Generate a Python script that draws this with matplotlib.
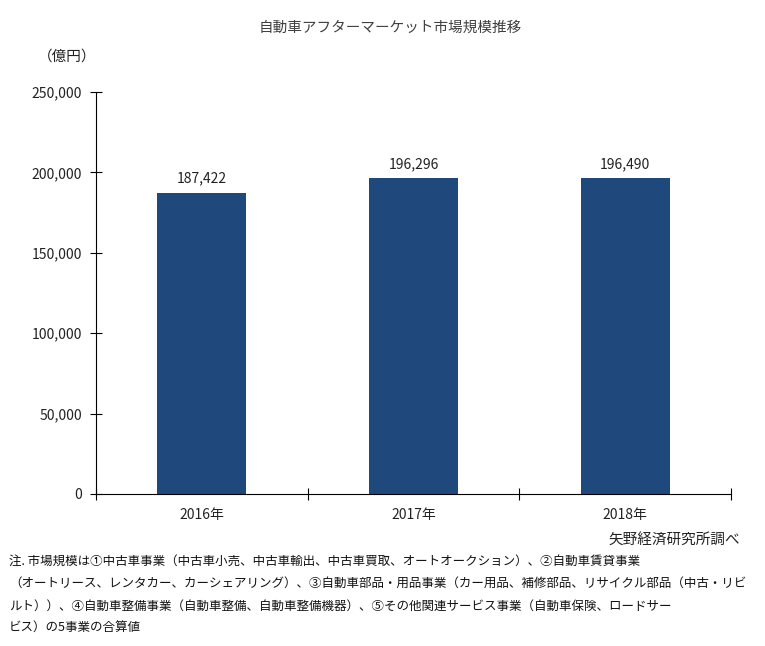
import matplotlib
matplotlib.use('Agg')
import matplotlib.pyplot as plt
from matplotlib.ticker import FuncFormatter, FixedLocator

plt.rcParams['font.family'] = ['Noto Sans CJK JP', 'DejaVu Sans']

# data
years = ['2016年', '2017年', '2018年']
market_size = [187422, 196296, 196490]

title = '自動車アフターマーケット市場規模推移'
unit_label = '（億円）'
source = '矢野経済研究所調べ'
note_lines = [
    '注. 市場規模は①中古車事業（中古車小売、中古車輸出、中古車買取、オートオークション）、②自動車賃貸事業',
    '（オートリース、レンタカー、カーシェアリング）、③自動車部品・用品事業（カー用品、補修部品、リサイクル部品（中古・リビ',
    'ルト））、④自動車整備事業（自動車整備、自動車整備機器）、⑤その他関連サービス事業（自動車保険、ロードサー',
    'ビス）の5事業の合算値',
]

fig = plt.figure(figsize=(7.65, 6.46), dpi=100)
ax = fig.add_axes([0.1255, 0.2353, 0.8301, 0.6223])

x = range(len(years))
bars = ax.bar(x, market_size, width=0.42, color='#1F497D')
for xi, v in zip(x, market_size):
    ax.text(xi, v + 4500, f'{v:,}', ha='center', va='bottom', fontsize=10, color='#222222')

ax.set_xlim(-0.5, len(years) - 0.5)
ax.set_ylim(0, 250000)
ax.set_yticks(range(0, 250001, 50000))
ax.yaxis.set_major_formatter(FuncFormatter(lambda v, p: f'{int(v):,}'))
ax.tick_params(axis='y', direction='inout', length=8, labelsize=10, labelcolor='#222222', pad=6)

# category boundary ticks, labels centered under bars
ax.xaxis.set_major_locator(FixedLocator([i - 0.5 for i in range(len(years) + 1)]))
ax.xaxis.set_major_formatter(FuncFormatter(lambda v, p: ''))
ax.xaxis.set_minor_locator(FixedLocator(list(x)))
ax.set_xticklabels(years, minor=True)
ax.tick_params(axis='x', which='major', direction='inout', length=8)
ax.tick_params(axis='x', which='minor', length=0, labelsize=10, labelcolor='#222222', pad=10)

ax.spines['top'].set_visible(False)
ax.spines['right'].set_visible(False)

fig.text(0.51, 0.957, title, ha='center', va='center', fontsize=10.5, color='#404040')
fig.text(0.088, 0.912, unit_label, ha='center', va='center', fontsize=10.5, color='#222222')
fig.text(0.967, 0.164, source, ha='right', va='center', fontsize=10.5, color='#222222')

for i, line in enumerate(note_lines):
    fig.text(0.012, 0.131 - i * 0.0345, line, ha='left', va='center', fontsize=9, color='#111111')

fig.savefig('out.png', dpi=100)
